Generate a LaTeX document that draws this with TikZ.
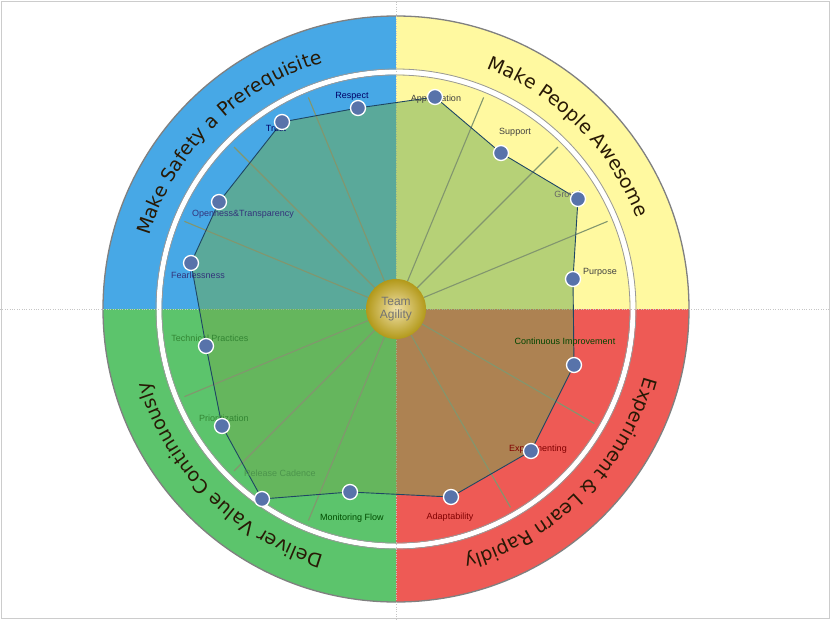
\documentclass[tikz,border=0pt]{standalone}
\usepackage{fontspec}
\newfontfamily\arcfont{DejaVu Sans}
\newfontfamily\lblfont{Liberation Sans}
\usetikzlibrary{decorations.text}
\definecolor{qblue}{RGB}{71,168,230}
\definecolor{qyellow}{RGB}{255,249,160}
\definecolor{qgreen}{RGB}{92,196,108}
\definecolor{qred}{RGB}{238,90,85}
\definecolor{polyfill}{RGB}{110,170,80}
\definecolor{polyline}{RGB}{30,70,100}
\definecolor{dotc}{RGB}{88,115,170}
\definecolor{spokec}{RGB}{130,150,110}
\definecolor{arctext}{RGB}{40,25,5}
\begin{document}
\begin{tikzpicture}[x=1pt,y=1pt,
  lbl/.style={font=\lblfont\fontsize{9}{10}\selectfont,inner sep=0pt},
  dot/.style={circle,fill=dotc,draw=white,line width=1.3pt,minimum size=15pt,inner sep=0pt},
  spoke/.style={draw=spokec,line width=1.1pt},
  arct/.style={decorate,decoration={text along path,text align=center,
     text format delimiters={[}{]}}}]
\useasboundingbox (-396,-310) rectangle (434,309);
\fill[white] (-396,-310) rectangle (434,309);
\draw[gray!40] (-395,-309) rectangle (433,308);
% quadrants
\fill[qblue] (0,0) -- (180:293) arc[start angle=180,end angle=90,radius=293] -- cycle;
\fill[qyellow] (0,0) -- (90:293) arc[start angle=90,end angle=0,radius=293] -- cycle;
\fill[qred] (0,0) -- (0:293) arc[start angle=0,end angle=-90,radius=293] -- cycle;
\fill[qgreen] (0,0) -- (-90:293) arc[start angle=-90,end angle=-180,radius=293] -- cycle;
\draw[gray,line width=1.3pt] (0,0) circle[radius=293];
% white ring
\draw[white,line width=5pt] (0,0) circle[radius=237];
\draw[gray!80,line width=0.8pt] (0,0) circle[radius=234];
\draw[gray!80,line width=0.8pt] (0,0) circle[radius=240];
% faint axes
\draw[gray!45,dotted] (-396,0) -- (434,0);
\draw[gray!45,dotted] (0,-310) -- (0,309);
% polygon
\coordinate (p1) at (39,212);
\coordinate (p2) at (105,156);
\coordinate (p3) at (182,110);
\coordinate (p4) at (177,30);
\coordinate (p5) at (178,-56);
\coordinate (p6) at (135,-142);
\coordinate (p7) at (55,-188);
\coordinate (p8) at (-46,-183);
\coordinate (p9) at (-134,-190);
\coordinate (p10) at (-174,-117);
\coordinate (p11) at (-190,-37);
\coordinate (p12) at (-205,46);
\coordinate (p13) at (-177,107);
\coordinate (p14) at (-114,187);
\coordinate (p15) at (-38,201);
\fill[polyfill,fill opacity=0.5] (p1)--(p2)--(p3)--(p4)--(p5)--(p6)--(p7)--(p8)--(p9)--(p10)--(p11)--(p12)--(p13)--(p14)--(p15)--cycle;
% spokes
\foreach \a in {67.5,45,22.5,-30,-60,-112.5,-135,-157.5,157.5,135,112.5}
  \draw[spoke] (\a:30) -- (\a:229);
\draw[polyline,line width=0.9pt] (p1)--(p2)--(p3)--(p4)--(p5)--(p6)--(p7)--(p8)--(p9)--(p10)--(p11)--(p12)--(p13)--(p14)--(p15)--cycle;
% labels
\node[lbl,text=blue!40!black] (l15) at (-44,213) {Respect};
\node[lbl,text=blue!40!black] (l14) at (-120,181) {Trust};
\node[lbl,text=black!75] (l1) at (40,210) {Appreciation};
\node[lbl,text=black!75] (l2) at (119,177) {Support};
\node[lbl,text=black!60] (l3) at (173,115) {Growth};
\node[lbl,text=black!75] (l4) at (204,37) {Purpose};
\node[lbl,text=black!55!green!60!black] (l5) at (169,-33) {Continuous Improvement};
\node[lbl,text=red!50!black] (l6) at (142,-140) {Experimenting};
\node[lbl,text=red!50!black] (l7) at (54,-208) {Adaptability};
\node[lbl,text=green!30!black] (l8) at (-44,-209) {Monitoring Flow};
\node[lbl,text=green!40!black!70] (l9) at (-116,-164) {Release Cadence};
\node[lbl,text=green!40!black!80] (l10) at (-172,-109) {Prioritization};
\node[lbl,text=green!40!black!80] (l11) at (-186,-29) {Technical Practices};
\node[lbl,text=blue!35!black!80] (l12) at (-198,34) {Fearlessness};
\node[lbl,text=blue!35!black!80] (l13) at (-153,95) {Openness\&Transparency};
% dots
\foreach \i in {1,...,15} \node[dot] (d\i) at (p\i) {};
% centre
\shade[inner color=yellow!40!brown!40,outer color=brown!50!yellow!80!black] (0,0) circle[radius=30];
\node[font=\lblfont\fontsize{12}{13}\selectfont,text=black!55,align=center] (team) at (0,0) {Team\\Agility};
% arc texts
\path[arct,decoration={text={[\arcfont\fontsize{19}{19}\selectfont\color{arctext}]Make Safety a Prerequisite}}]
  (180:257) arc[start angle=180,end angle=90,radius=257];
\path[arct,decoration={text={[\arcfont\fontsize{19}{19}\selectfont\color{arctext}]Make People Awesome}}]
  (90:257) arc[start angle=90,end angle=0,radius=257];
\path[arct,decoration={text={[\arcfont\fontsize{19}{19}\selectfont\color{arctext}]Experiment {\&} Learn Rapidly}}]
  (0:257) arc[start angle=0,end angle=-90,radius=257];
\path[arct,decoration={text={[\arcfont\fontsize{19}{19}\selectfont\color{arctext}]Deliver Value Continuously}}]
  (-90:257) arc[start angle=-90,end angle=-180,radius=257];
\end{tikzpicture}
\end{document}
